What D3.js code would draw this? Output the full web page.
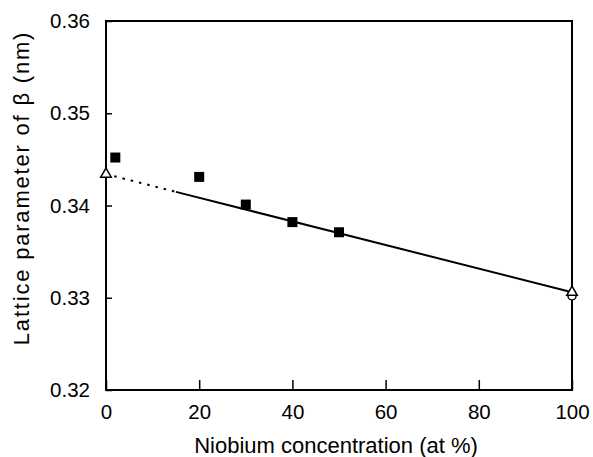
<!DOCTYPE html>
<html>
<head>
<meta charset="utf-8">
<script src="https://cdn.jsdelivr.net/npm/d3@7"></script>
<style>
  body { margin: 0; background: #fff; }
  text { font-family: "Liberation Sans", Arial, sans-serif; fill: #000; }
</style>
</head>
<body>
<div id="main"></div>
<script>
const squareX = [2, 20, 30, 40, 50];
const squareY = [0.3452, 0.3431, 0.3401, 0.3382, 0.3371];
const triangleX = [0, 100];
const triangleY = [0.3434, 0.3306];
const circleX = [100];
const circleY = [0.3302];
const fitLine = [[0, 0.3434], [100, 0.3306]];
const dashEnd = 15;
const xTicks = [0, 20, 40, 60, 80, 100];
const yTicks = [0.32, 0.33, 0.34, 0.35, 0.36];

const width = 593;
const height = 457;
const margin = {left: 106, right: 21, top: 21, bottom: 67};

const svg = d3.select('#main')
  .append('svg')
  .attr('width', width)
  .attr('height', height);

const x = d3.scaleLinear().domain([0, 100]).range([margin.left, width - margin.right]);
const y = d3.scaleLinear().domain([0.32, 0.36]).range([height - margin.bottom, margin.top]);

// frame
svg.append('rect')
  .attr('x', x(0)).attr('y', y(0.36))
  .attr('width', x(100) - x(0)).attr('height', y(0.32) - y(0.36))
  .attr('fill', 'none').attr('stroke', '#000').attr('stroke-width', 2);

const xAxis = d3.axisBottom(x).tickValues(xTicks).tickSize(-10).tickPadding(19).tickFormat(d3.format('d'));
svg.append('g')
  .attr('transform', `translate(0,${y(0.32)})`)
  .call(xAxis)
  .call(g => g.select('.domain').remove())
  .call(g => g.selectAll('line').attr('stroke-width', 1.5))
  .call(g => g.selectAll('text').style('font-size', '20.5px').attr('dy', '0.5em'));

const yAxis = d3.axisLeft(y).tickValues(yTicks).tickSize(-6).tickPadding(16).tickFormat(d3.format('.2f'));
svg.append('g')
  .attr('transform', `translate(${x(0)},0)`)
  .call(yAxis)
  .call(g => g.select('.domain').remove())
  .call(g => g.selectAll('line').attr('stroke-width', 1.5))
  .call(g => g.selectAll('text').style('font-size', '20.5px'));

svg.append('text')
  .attr('x', (x(0) + x(100)) / 2 - 3)
  .attr('y', 453)
  .attr('text-anchor', 'middle')
  .style('font-size', '22px')
  .text('Niobium concentration (at %)');

svg.append('text')
  .attr('transform', `translate(29,188) rotate(-90)`)
  .attr('text-anchor', 'middle')
  .style('font-size', '22px')
  .style('letter-spacing', '1.8px')
  .text('Lattice parameter of β (nm)');

// fit line: dotted part then solid
const slope = (fitLine[1][1] - fitLine[0][1]) / (fitLine[1][0] - fitLine[0][0]);
const yAt = (v) => fitLine[0][1] + slope * (v - fitLine[0][0]);
svg.append('line')
  .attr('x1', x(fitLine[0][0])).attr('y1', y(fitLine[0][1]))
  .attr('x2', x(dashEnd)).attr('y2', y(yAt(dashEnd)))
  .attr('stroke', '#000').attr('stroke-width', 2).attr('stroke-dasharray', '2.5,6');
svg.append('line')
  .attr('x1', x(dashEnd)).attr('y1', y(yAt(dashEnd)))
  .attr('x2', x(fitLine[1][0])).attr('y2', y(fitLine[1][1]))
  .attr('stroke', '#000').attr('stroke-width', 2);

svg.append('g').selectAll('rect')
  .data(d3.zip(squareX, squareY))
  .enter()
  .append('rect')
  .attr('x', d => x(d[0]) - 5).attr('y', d => y(d[1]) - 5)
  .attr('width', 10).attr('height', 10)
  .attr('fill', '#000');

svg.append('g').selectAll('circle')
  .data(d3.zip(circleX, circleY))
  .enter()
  .append('circle')
  .attr('cx', d => x(d[0])).attr('cy', d => y(d[1]))
  .attr('r', 4)
  .attr('fill', '#fff').attr('stroke', '#000').attr('stroke-width', 1.5);

const tri = d3.symbol().type(d3.symbolTriangle).size(48);
svg.append('g').selectAll('path')
  .data(d3.zip(triangleX, triangleY))
  .enter()
  .append('path')
  .attr('d', tri)
  .attr('transform', d => `translate(${x(d[0])},${y(d[1])})`)
  .attr('fill', '#fff').attr('stroke', '#000').attr('stroke-width', 1.5);
</script>
</body>
</html>
